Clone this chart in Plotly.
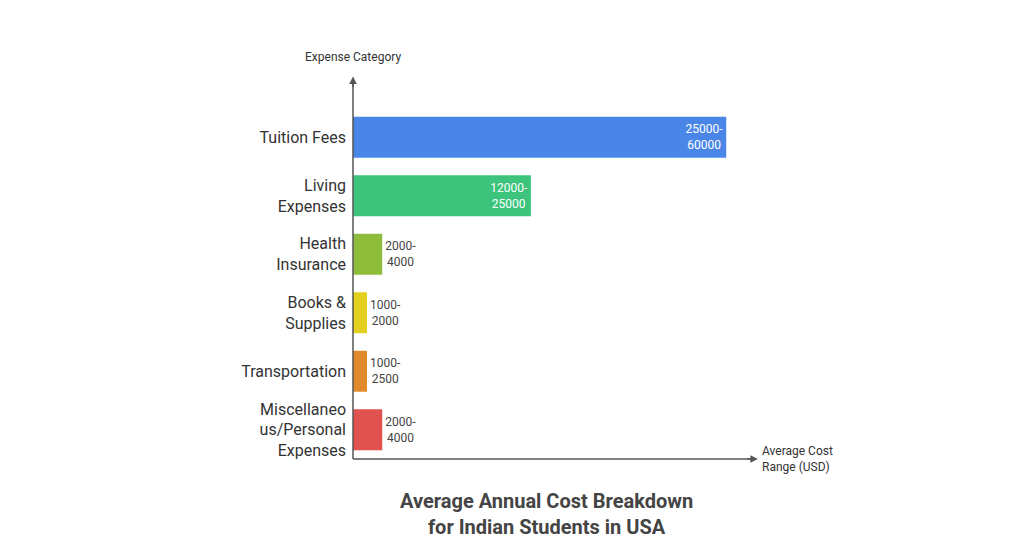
import plotly.graph_objects as go

categories = ["Tuition Fees", "Living<br>Expenses", "Health<br>Insurance", "Books &<br>Supplies",
              "Transportation", "Miscellaneo<br>us/Personal<br>Expenses"]
bar_length = [60000, 28600, 4700, 2250, 2250, 4700]
range_labels = ["25000-<br>60000", "12000-<br>25000", "2000-<br>4000", "1000-<br>2000",
                "1000-<br>2500", "2000-<br>4000"]
colors = ["#4a86e8", "#3cc47c", "#8fbc3a", "#e3cf1f", "#e08a2c", "#e0524f"]

fig = go.Figure(go.Bar(
    y=categories, x=bar_length, orientation="h",
    marker=dict(color=colors, line=dict(width=0)),
    text=range_labels,
    textposition=["inside", "inside", "outside", "outside", "outside", "outside"],
    insidetextanchor="end",
    textfont=dict(size=12, family="Roboto"),
    insidetextfont=dict(color="white", size=12),
    outsidetextfont=dict(color="#444", size=12),
    cliponaxis=False,
))

fig.update_layout(
    width=1024, height=536,
    margin=dict(l=345, r=284, t=100, b=85),
    paper_bgcolor="white", plot_bgcolor="white",
    bargap=0.3, showlegend=False,
    font=dict(family="Roboto", color="#333"),
    uniformtext=dict(minsize=12, mode="show"),
)
fig.update_xaxes(range=[0, 63500], visible=False)
fig.update_yaxes(autorange="reversed", showline=False, showgrid=False, ticks="",
                 tickfont=dict(size=16, color="#333"), ticklabelstandoff=6)

# axes with arrows
fig.add_shape(type="line", xref="paper", yref="paper", x0=0, y0=0, x1=0, y1=1.085,
              line=dict(color="#555", width=1.5))
fig.add_shape(type="line", xref="paper", yref="paper", x0=0, y0=0, x1=1.02, y1=0,
              line=dict(color="#555", width=1.5))
fig.add_annotation(x=0, y=1.09, xref="paper", yref="paper", ax=0, ay=12, axref="pixel", ayref="pixel",
                   showarrow=True, arrowhead=2, arrowwidth=1.5, arrowcolor="#555", text="")
fig.add_annotation(x=1.025, y=0, xref="paper", yref="paper", ax=-12, ay=0, axref="pixel", ayref="pixel",
                   showarrow=True, arrowhead=2, arrowwidth=1.5, arrowcolor="#555", text="")

fig.add_annotation(text="Expense Category", xref="paper", yref="paper", x=0, y=1.12,
                   xanchor="center", yanchor="bottom", showarrow=False, font=dict(size=12, color="#333"))
fig.add_annotation(text="Average Cost<br>Range (USD)", xref="paper", yref="paper", x=1.03, y=0.0,
                   xanchor="left", yanchor="middle", align="left", showarrow=False,
                   font=dict(size=12, color="#333"))
fig.add_annotation(text="<b>Average Annual Cost Breakdown<br>for Indian Students in USA</b>",
                   xref="paper", yref="paper", x=0.49, y=-0.08, xanchor="center", yanchor="top",
                   showarrow=False, font=dict(size=20, color="#444"))

fig.write_html("out.html")
